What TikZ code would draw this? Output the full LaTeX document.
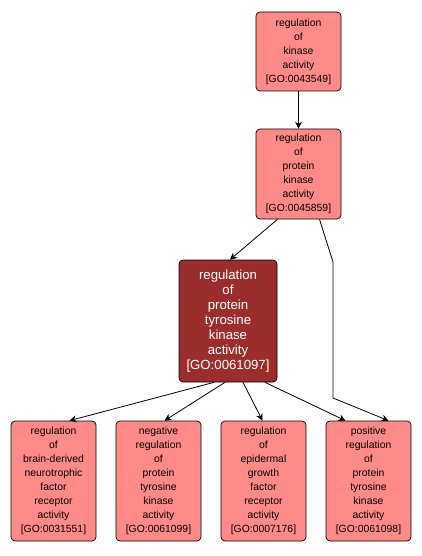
\documentclass[tikz,border=0pt]{standalone}
\usepackage{fontspec}
\setmainfont{Liberation Sans}
\usetikzlibrary{arrows.meta}
\definecolor{lightfill}{HTML}{FF8A88}
\definecolor{darkfill}{HTML}{9B2D2D}
\tikzset{
  goterm/.style={draw=black, line width=0.7pt, rounded corners=4pt, fill=lightfill, align=center,
    font=\fontsize{10.4}{14}\selectfont, inner sep=0pt, text=black},
  godark/.style={goterm, fill=darkfill, text=white, font=\fontsize{13.2}{14.9}\selectfont},
  edge/.style={draw=black, line width=0.8pt, -{Stealth[length=7pt,width=7pt]}}
}
\begin{document}
\begin{tikzpicture}[x=1pt,y=-1pt]
\useasboundingbox (0,0) rectangle (421,556);
\node[goterm, minimum width=85pt, minimum height=79pt] (a) at (298.5,51.5) {regulation\\of\\kinase\\activity\\{[GO:0043549]}};
\node[goterm, minimum width=85pt, minimum height=90pt] (b) at (298.5,174) {regulation\\of\\protein\\kinase\\activity\\{[GO:0045859]}};
\node[godark, minimum width=98pt, minimum height=122pt] (c) at (228,321) {regulation\\of\\protein\\tyrosine\\kinase\\activity\\{[GO:0061097]}};
\node[goterm, minimum width=85pt, minimum height=120pt] (d1) at (53.5,481) {regulation\\of\\brain-derived\\neurotrophic\\factor\\receptor\\activity\\{[GO:0031551]}};
\node[goterm, minimum width=85pt, minimum height=120pt] (d2) at (158.5,481) {negative\\regulation\\of\\protein\\tyrosine\\kinase\\activity\\{[GO:0061099]}};
\node[goterm, minimum width=85pt, minimum height=120pt] (d3) at (263.5,481) {regulation\\of\\epidermal\\growth\\factor\\receptor\\activity\\{[GO:0007176]}};
\node[goterm, minimum width=85pt, minimum height=120pt] (d4) at (368.5,481) {positive\\regulation\\of\\protein\\tyrosine\\kinase\\activity\\{[GO:0061098]}};
\coordinate (k1) at (333,262);
\coordinate (k2) at (333,398);
\draw[edge] (a.south) -- (b.north);
\draw[edge] ([xshift=-21pt]b.south) -- ([xshift=2pt]c.north);
\draw[line width=0.8pt] ([xshift=21pt]b.south) -- (k1) -- (k2);
\draw[edge] (k2) -- ([xshift=20pt]d4.north);
\draw[edge] ([xshift=-14pt]c.south) -- ([xshift=16pt]d1.north);
\draw[edge] ([xshift=-3pt]c.south) -- ([xshift=6pt]d2.north);
\draw[edge] ([xshift=15pt]c.south) -- ([xshift=-1pt]d3.north);
\draw[edge] ([xshift=37pt]c.south) -- ([xshift=-23pt]d4.north);
\end{tikzpicture}
\end{document}
